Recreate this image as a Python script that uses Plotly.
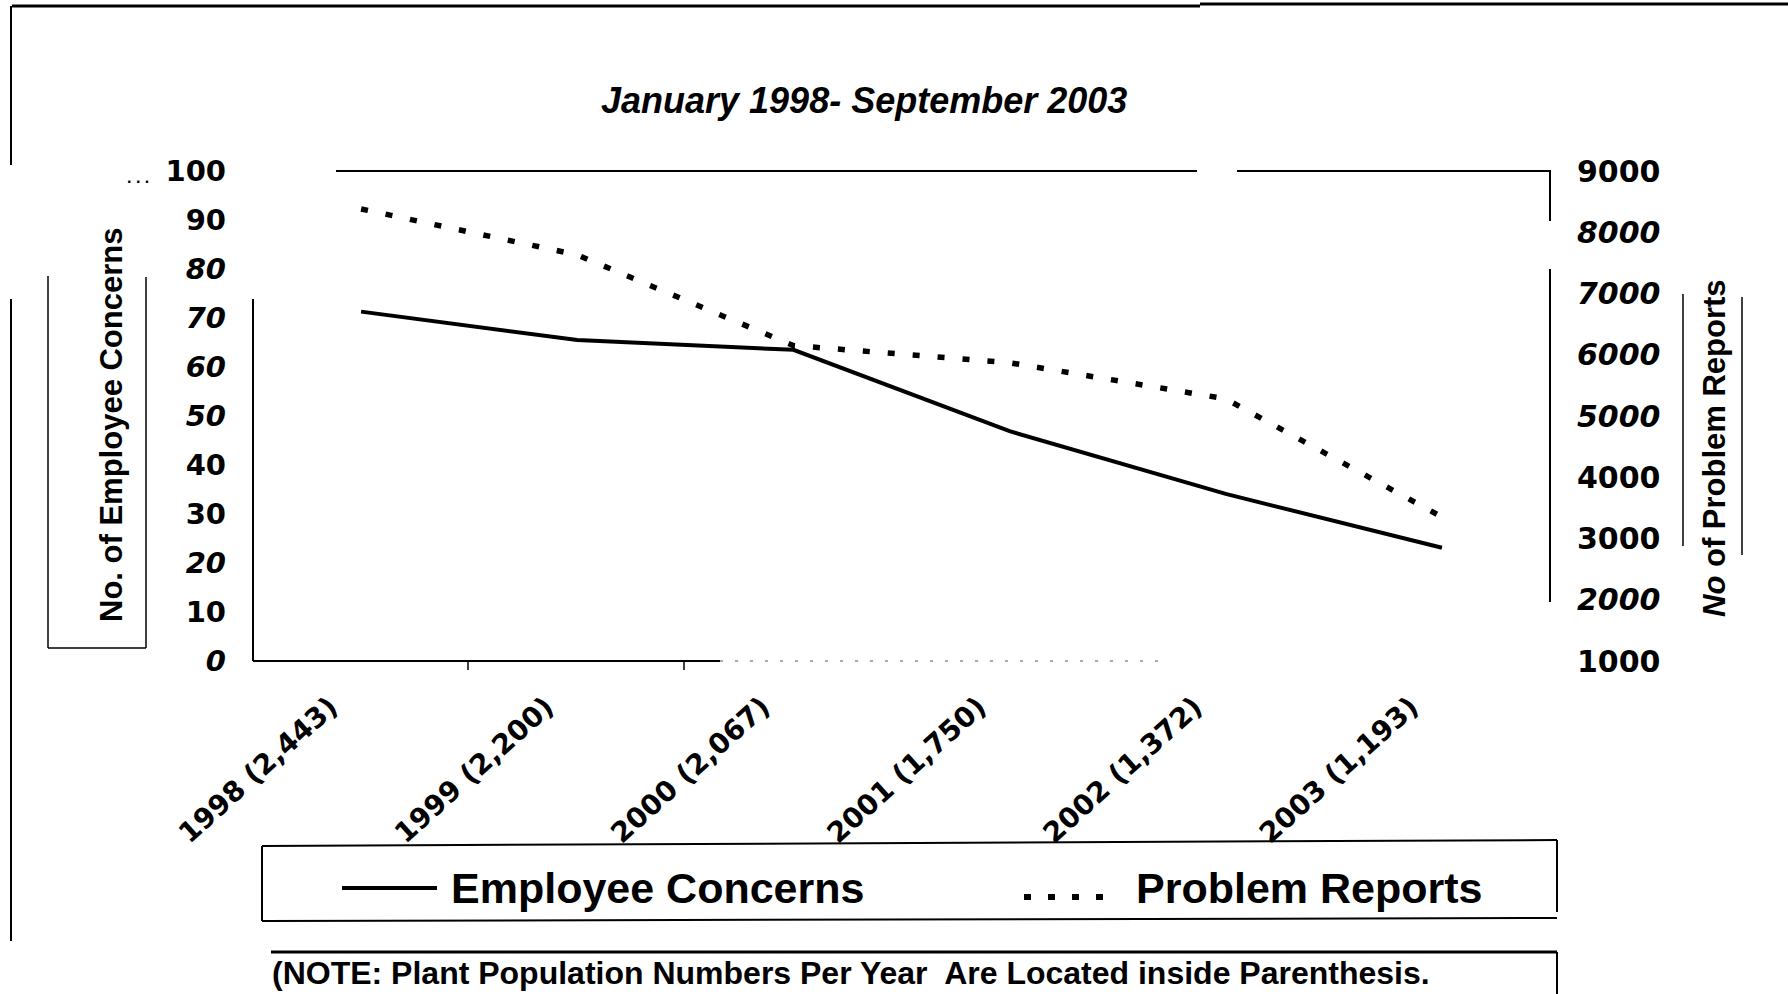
import plotly.graph_objects as go

# Categories: year with plant population in parentheses
years = ["1998 (2,443)", "1999 (2,200)", "2000 (2,067)",
         "2001 (1,750)", "2002 (1,372)", "2003 (1,193)"]

# Series values
employee_concerns = [71.3, 65.5, 63.5, 46.9, 34.1, 23.1]   # left axis
problem_reports = [8380, 7630, 6150, 5870, 5280, 3350]     # right axis

# Axis ticks
left_ticks = [0, 10, 20, 30, 40, 50, 60, 70, 80, 90, 100]
left_italic = {0, 20, 50, 60, 70, 80}
right_ticks = [1000, 2000, 3000, 4000, 5000, 6000, 7000, 8000, 9000]
right_italic = {2000, 5000, 6000, 7000, 8000}

FIG_W, FIG_H = 1788, 994
L, R, T, B = 253, 1550, 171, 661   # plot area in pixels

ARIAL = "Liberation Sans, Arial, sans-serif"
TICKF = "DejaVu Sans, Verdana, sans-serif"


def fx(x):
    return (x - L) / (R - L)


def fy(y):
    return (B - y) / (B - T)


def tick_text(vals, italic):
    return [f"<i>{v}</i>" if v in italic else str(v) for v in vals]


fig = go.Figure()
fig.add_trace(go.Scatter(
    x=years, y=employee_concerns, mode="lines", name="Employee Concerns",
    line=dict(color="black", width=4), yaxis="y", showlegend=False))
fig.add_trace(go.Scatter(
    x=years, y=problem_reports, mode="lines", name="Problem Reports",
    line=dict(color="black", width=5.5, dash="7px,18px"), yaxis="y2",
    showlegend=False))

shapes = []


def seg(x0, y0, x1, y1, w=2, dash=None, color="black"):
    ln = dict(color=color, width=w)
    if dash:
        ln["dash"] = dash
    shapes.append(dict(type="line", xref="paper", yref="paper",
                       x0=fx(x0), y0=fy(y0), x1=fx(x1), y1=fy(y1), line=ln,
                       layer="above"))


# outer frame
seg(12, 6, 1200, 6, 3)
seg(1200, 4, 1788, 4, 3)
seg(11, 6, 11, 165, 2)
seg(11, 299, 11, 941, 2)

# plot area border pieces
seg(336, 171, 1197, 171, 2)
seg(1237, 171, 1551, 171, 2)
seg(1550, 170, 1550, 221, 2)
seg(1550, 269, 1550, 602, 2)
seg(253, 299, 253, 661, 2)
seg(253, 661, 720, 661, 2)
seg(720, 661, 1165, 661, 1, "3px,12px", "#555555")
seg(468, 661, 468, 670, 1.5)
seg(684, 661, 684, 670, 1.5)

# axis title boxes
seg(48, 276, 48, 648, 1.5)
seg(146, 277, 146, 648, 1.5)
seg(48, 648, 146, 648, 1.5)
seg(1683, 294, 1683, 546, 1.5)
seg(1742, 297, 1742, 555, 1.5)

# legend box and samples
seg(262, 846, 1557, 840, 2)
seg(262, 846, 262, 921, 2)
seg(262, 921, 1557, 918, 2)
seg(1557, 840, 1557, 912, 2)
seg(342, 888, 437, 888, 4)
seg(1024, 897, 1115, 897, 6, "7px,17px")

# note box
seg(271, 952, 1557, 952, 3)
seg(1557, 952, 1557, 994, 2)

annotations = []


def label(text, x, y, size, xanchor="center", yanchor="middle", angle=0,
          style="normal", family=ARIAL):
    annotations.append(dict(
        text=text, xref="paper", yref="paper", x=fx(x), y=fy(y),
        xanchor=xanchor, yanchor=yanchor, showarrow=False, textangle=angle,
        borderpad=0,
        font=dict(family=family, size=size, color="black", weight="bold",
                  style=style)))


label("January 1998- September 2003", 864, 100, 36, style="italic")
label("No. of Employee Concerns", 111, 425, 31, angle=-90)
label("<i>No</i> of Problem Reports", 1714, 448, 31, angle=-90)
label(". . .", 150, 178, 16, xanchor="right")
label("Employee Concerns", 450, 888, 43, xanchor="left")
label("Problem Reports", 1135, 888, 43, xanchor="left")
label("(NOTE: Plant Population Numbers Per Year  Are Located inside Parenthesis.",
      271, 992, 32, xanchor="left", yanchor="bottom")

fig.update_layout(
    width=FIG_W, height=FIG_H,
    margin=dict(l=L, r=FIG_W - R, t=T, b=FIG_H - B, pad=0),
    paper_bgcolor="white", plot_bgcolor="white",
    shapes=shapes, annotations=annotations,
    xaxis=dict(
        type="category", range=[-0.5, 5.5], showgrid=False, zeroline=False,
        showline=False, ticks="", tickangle=-42,
        tickfont=dict(family=TICKF, size=28, color="black", weight="bold"),
        ticklabelshift=-31, ticklabelstandoff=23),
    yaxis=dict(
        range=[0, 100], tickvals=left_ticks,
        ticktext=tick_text(left_ticks, left_italic),
        showgrid=False, zeroline=False, showline=False, ticks="",
        tickfont=dict(family=TICKF, size=29, color="black", weight="bold"),
        ticklabelstandoff=26),
    yaxis2=dict(
        range=[1000, 9000], overlaying="y", side="right",
        tickvals=right_ticks, ticktext=tick_text(right_ticks, right_italic),
        showgrid=False, zeroline=False, showline=False, ticks="",
        tickfont=dict(family=TICKF, size=30, color="black", weight="bold"),
        ticklabelstandoff=26),
)

fig.write_html("out.html")
